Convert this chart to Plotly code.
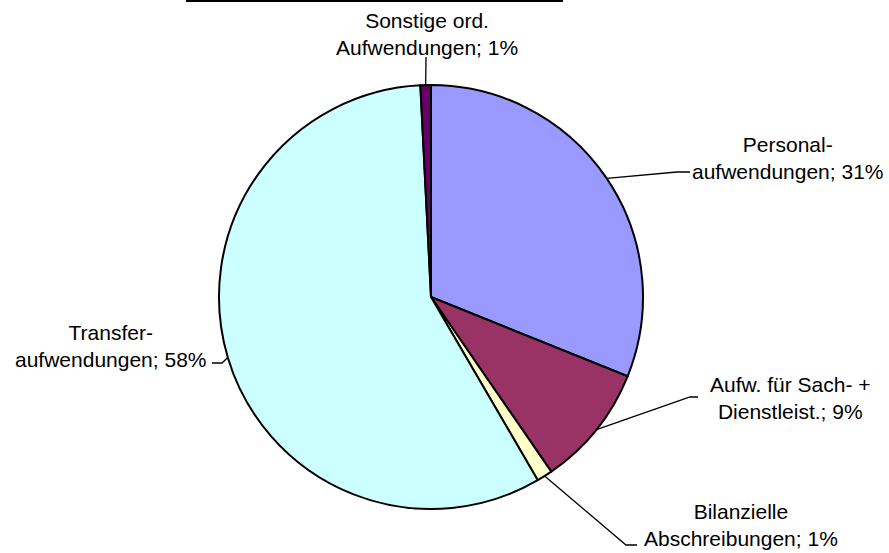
import math
import plotly.graph_objects as go

# Aufwandsstruktur (Anteile in %)
categories = [
    "Personal-<br>aufwendungen",
    "Aufw. für Sach- +<br>Dienstleist.",
    "Bilanzielle<br>Abschreibungen",
    "Transfer-<br>aufwendungen",
    "Sonstige ord.<br>Aufwendungen",
]
values = [31.1, 9.3, 1.2, 57.6, 0.8]
colors = ["#9999FF", "#993366", "#FFFFCC", "#CCFFFF", "#660066"]

W, H = 889, 553
CX, CY, R = 431, 297, 212  # pie centre and radius in pixels


def px(x):
    return x / W


def py(y):
    return 1 - y / H


fig = go.Figure()
fig.add_trace(go.Pie(
    labels=categories,
    values=values,
    sort=False,
    direction="clockwise",
    rotation=0,
    marker=dict(colors=colors, line=dict(color="black", width=2)),
    textinfo="none",
    hoverinfo="label+percent",
    showlegend=False,
    domain=dict(x=[px(CX - R), px(CX + R)], y=[py(CY + R), py(CY - R)]),
))

# label placement: (block centre x, block centre y, elbow points of the leader line)
label_layout = [
    (788, 158, [(677, 172), (690, 172)]),
    (790, 398, [(690, 397), (698, 397)]),
    (741, 525, [(626, 545), (637, 545)]),
    (111, 346, [(222, 363), (212, 363)]),
    (427, 34, [(426, 57)]),
]

total = sum(values)
cum = 0.0
shapes = []
annotations = []
for name, val, (lx, ly, elbow) in zip(categories, values, label_layout):
    mid = (cum + val / 2) / total * 2 * math.pi
    cum += val
    sx = CX + R * math.sin(mid)
    sy = CY - R * math.cos(mid)
    pts = [(sx, sy)] + elbow
    path = "M " + " L ".join(f"{px(x)},{py(y)}" for x, y in pts)
    shapes.append(dict(type="path", xref="paper", yref="paper", path=path,
                       line=dict(color="black", width=1.3)))
    pct = round(val / total * 100)
    annotations.append(dict(
        xref="paper", yref="paper", x=px(lx), y=py(ly),
        xanchor="center", yanchor="middle", showarrow=False, align="center",
        text=f"{name}; {pct}%", borderpad=0,
        font=dict(family="Liberation Sans, Arial, sans-serif", size=21, color="black"),
    ))

# rule at the top edge
shapes.append(dict(type="line", xref="paper", yref="paper",
                   x0=px(186), x1=px(563), y0=py(1), y1=py(1),
                   line=dict(color="black", width=2)))

fig.update_layout(
    width=W, height=H,
    margin=dict(l=0, r=0, t=0, b=0),
    paper_bgcolor="white", plot_bgcolor="white",
    shapes=shapes, annotations=annotations,
)

fig.write_html("out.html")
